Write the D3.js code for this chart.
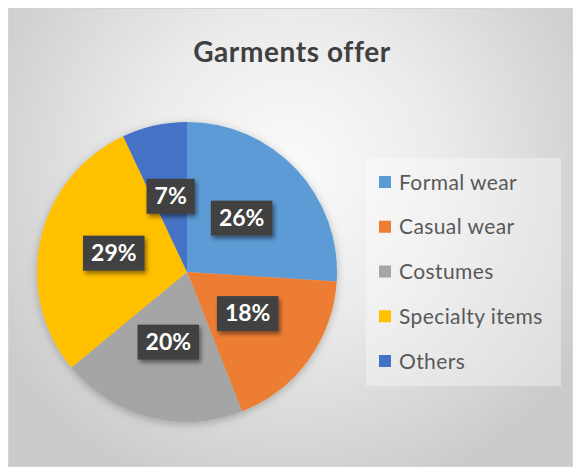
<!DOCTYPE html>
<html>
<head>
<meta charset="utf-8">
<script src="https://cdn.jsdelivr.net/npm/d3@7"></script>
<style>
  html, body { margin: 0; padding: 0; background: #ffffff; }
  svg { display: block; font-family: Lato, "Open Sans", sans-serif; }
</style>
</head>
<body>
<div id="chart"></div>
<script>
// data
var title = "Garments offer";
var categories = ["Formal wear", "Casual wear", "Costumes", "Specialty items", "Others"];
var shares = [26, 18, 20, 29, 7];
var colors = ["#5b9bd5", "#ed7d31", "#a5a5a5", "#ffc000", "#4472c4"];

var svgWidth = 573, svgHeight = 468;

var svg = d3.select("#chart").append("svg")
    .attr("width", svgWidth)
    .attr("height", svgHeight);

var defs = svg.append("defs");

// chart area background
var bg = defs.append("radialGradient")
    .attr("id", "bgGrad")
    .attr("gradientUnits", "userSpaceOnUse")
    .attr("cx", 290).attr("cy", 170).attr("r", 340);
bg.append("stop").attr("offset", "0%").attr("stop-color", "#fbfbfb");
bg.append("stop").attr("offset", "45%").attr("stop-color", "#ebebeb");
bg.append("stop").attr("offset", "100%").attr("stop-color", "#cbcbcb");

// dotted fill for data label boxes
var pat = defs.append("pattern")
    .attr("id", "dots")
    .attr("patternUnits", "userSpaceOnUse")
    .attr("width", 4).attr("height", 4);
pat.append("rect").attr("width", 4).attr("height", 4).attr("fill", "#3b3b3b");
pat.append("circle").attr("cx", 1).attr("cy", 1).attr("r", 0.7).attr("fill", "#5a5a5a");
pat.append("circle").attr("cx", 3).attr("cy", 3).attr("r", 0.7).attr("fill", "#5a5a5a");

var pieShadow = defs.append("filter").attr("id", "pieShadow")
    .attr("x", "-20%").attr("y", "-20%").attr("width", "140%").attr("height", "140%");
pieShadow.append("feDropShadow")
    .attr("dx", 0).attr("dy", 2).attr("stdDeviation", 4)
    .attr("flood-color", "#000").attr("flood-opacity", 0.25);

var boxShadow = defs.append("filter").attr("id", "boxShadow")
    .attr("x", "-30%").attr("y", "-30%").attr("width", "160%").attr("height", "160%");
boxShadow.append("feDropShadow")
    .attr("dx", 2).attr("dy", 3).attr("stdDeviation", 2)
    .attr("flood-color", "#000").attr("flood-opacity", 0.45);

svg.append("rect")
    .attr("x", 8.5).attr("y", 8.5)
    .attr("width", svgWidth - 9).attr("height", 458)
    .attr("fill", "url(#bgGrad)")
    .attr("stroke", "#d4d4d4");

// title
svg.append("text")
    .attr("x", 292)
    .attr("y", 62)
    .attr("text-anchor", "middle")
    .attr("font-size", "28px")
    .attr("letter-spacing", "0.6px")
    .attr("font-weight", "bold")
    .attr("fill", "#404040")
    .text(title);

// pie
var cx = 187, cy = 272, radius = 150;

var pie = d3.pie().sort(null).value(function(d) { return d; });
var arcs = pie(shares);
var total = d3.sum(shares);

var arc = d3.arc().innerRadius(0).outerRadius(radius);

var pieGroup = svg.append("g")
    .attr("transform", "translate(" + cx + "," + cy + ")");

pieGroup.append("g")
    .attr("filter", "url(#pieShadow)")
    .selectAll("path")
    .data(arcs)
    .enter()
    .append("path")
    .attr("d", arc)
    .attr("fill", function(d, i) { return colors[i]; });

// data labels at the centroid (half radius)
var fmt = d3.format(".0%");
var labels = pieGroup.append("g").selectAll("g")
    .data(arcs)
    .enter()
    .append("g")
    .attr("transform", function(d) {
        var c = arc.centroid(d);
        return "translate(" + c[0] + "," + (c[1] - 3) + ")";
    });

labels.append("text")
    .attr("class", "pct")
    .attr("text-anchor", "middle")
    .attr("dy", "0.36em")
    .attr("font-size", "23px")
    .attr("font-weight", "bold")
    .attr("fill", "#ffffff")
    .text(function(d) { return fmt(d.value / total); });

labels.each(function() {
    var g = d3.select(this);
    var t = g.select("text");
    var w = t.node().getComputedTextLength();
    g.insert("rect", "text")
        .attr("x", -w / 2 - 8)
        .attr("y", -17)
        .attr("width", w + 16)
        .attr("height", 35)
        .attr("fill", "url(#dots)")
        .attr("filter", "url(#boxShadow)");
});

// legend
var legendY = d3.scalePoint()
    .domain(categories)
    .range([182, 361]);

svg.append("rect")
    .attr("x", 366).attr("y", 158)
    .attr("width", 195).attr("height", 228)
    .attr("fill", "#ffffff")
    .attr("fill-opacity", 0.35);

var legend = svg.append("g").selectAll("g")
    .data(categories)
    .enter()
    .append("g")
    .attr("transform", function(d) { return "translate(379," + legendY(d) + ")"; });

legend.append("rect")
    .attr("x", 0).attr("y", -6)
    .attr("width", 12).attr("height", 12)
    .attr("fill", function(d, i) { return colors[i]; });

legend.append("text")
    .attr("x", 20)
    .attr("dy", "0.36em")
    .attr("font-size", "21px")
    .attr("letter-spacing", "0.4px")
    .attr("fill", "#595959")
    .text(function(d) { return d; });
</script>
</body>
</html>
